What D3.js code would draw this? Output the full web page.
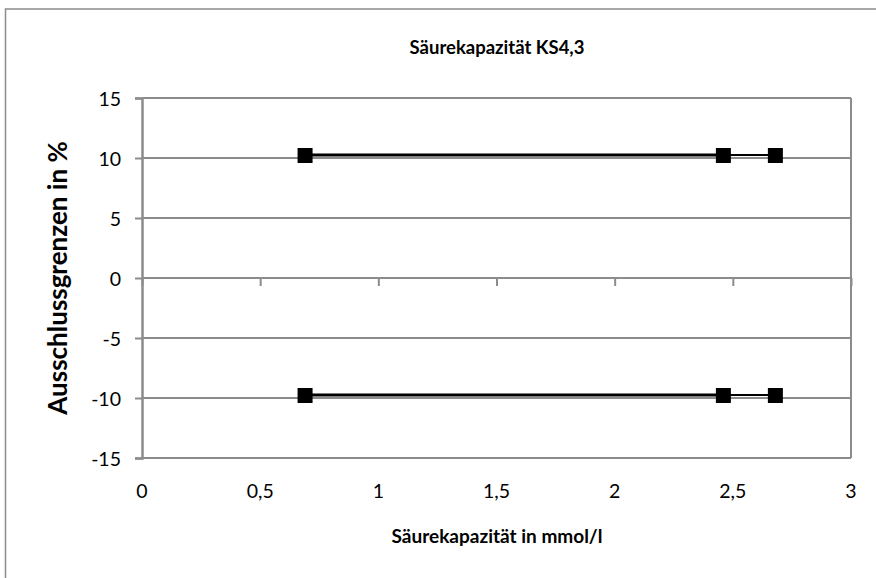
<!DOCTYPE html>
<html><head><meta charset="utf-8">
<script src="https://cdn.jsdelivr.net/npm/d3@7"></script>
<style>body{margin:0;background:#fff}svg{display:block}text{font-family:Lato,"Open Sans",sans-serif;fill:#000}</style>
</head><body><svg id="c" width="876" height="578"></svg>
<script>
const title = "Säurekapazität KS4,3";
const xTitle = "Säurekapazität in mmol/l";
const yTitle = "Ausschlussgrenzen in %";
const xTicks = [0, 0.5, 1, 1.5, 2, 2.5, 3];
const yTicks = [-15, -10, -5, 0, 5, 10, 15];
const xVals = [0.69, 2.46, 2.68];
const upperVals = [10.25, 10.25, 10.25];
const lowerVals = [-9.75, -9.75, -9.75];
const fmt = v => String(v).replace(".", ",");

const svg = d3.select("#c");
svg.append("rect").attr("x",5.5).attr("y",9).attr("width",900).attr("height",600)
  .attr("fill","#fff").attr("stroke","#8c8c8c").attr("stroke-width",1.5);

const x = d3.scaleLinear().domain([0,3]).range([142,851]);
const y = d3.scaleLinear().domain([-15,15]).range([458,98]);
const g = svg.append("g");
const gray = "#8c8c8c";

g.selectAll(".grid").data(yTicks).join("line")
  .attr("x1",x(0)).attr("x2",x(3)).attr("y1",d=>y(d)).attr("y2",d=>y(d))
  .attr("stroke",gray).attr("stroke-width",2);
g.append("line").attr("x1",x(3)).attr("x2",x(3)).attr("y1",y(15)).attr("y2",y(-15)).attr("stroke",gray).attr("stroke-width",2);

const yAxis = d3.axisLeft(y).tickValues(yTicks).tickSize(7).tickPadding(14).tickFormat(fmt);
const ya = g.append("g").attr("transform",`translate(${x(0)},0)`).call(yAxis);
ya.select(".domain").attr("stroke",gray).attr("stroke-width",2.5);
ya.selectAll(".tick line").attr("stroke",gray).attr("stroke-width",2);
ya.selectAll("text").style("font-size","19.5px").attr("fill","#000").attr("dy","0.4em");

const xAxis = d3.axisBottom(x).tickValues(xTicks).tickSize(8).tickFormat("");
const xa = g.append("g").attr("transform",`translate(0,${y(0)})`).call(xAxis);
xa.select(".domain").remove();
xa.selectAll(".tick line").attr("stroke",gray).attr("stroke-width",2);
g.selectAll(".xl").data(xTicks).join("text")
  .attr("x",d=>x(d)).attr("y",y(-15)+40).attr("text-anchor","middle")
  .style("font-size","19.5px").text(fmt);

const line = d3.line().x(d=>x(d[0])).y(d=>y(d[1]));
[upperVals, lowerVals].forEach(vals=>{
  const pts = xVals.map((v,i)=>[v, vals[i]]);
  g.append("path").attr("d",line(pts.slice(0,2))).attr("fill","none").attr("stroke","#000").attr("stroke-width",3);
  g.append("path").attr("d",line(pts)).attr("fill","none").attr("stroke","#000").attr("stroke-width",2);
  g.selectAll(null).data(pts).join("rect")
    .attr("x",d=>x(d[0])-7.5).attr("y",d=>y(d[1])-7).attr("width",15).attr("height",15).attr("fill","#000");
});

svg.append("text").attr("x",497).attr("y",54).attr("text-anchor","middle")
  .style("font-size","18.5px").style("font-weight","bold").text(title);
svg.append("text").attr("x",497).attr("y",543).attr("text-anchor","middle")
  .style("font-size","19px").style("font-weight","bold").text(xTitle);
svg.append("text").attr("transform",`translate(67,${(y(15)+y(-15))/2}) rotate(-90)`).attr("text-anchor","middle")
  .style("font-size","26px").style("font-weight","bold").text(yTitle);
</script></body></html>
